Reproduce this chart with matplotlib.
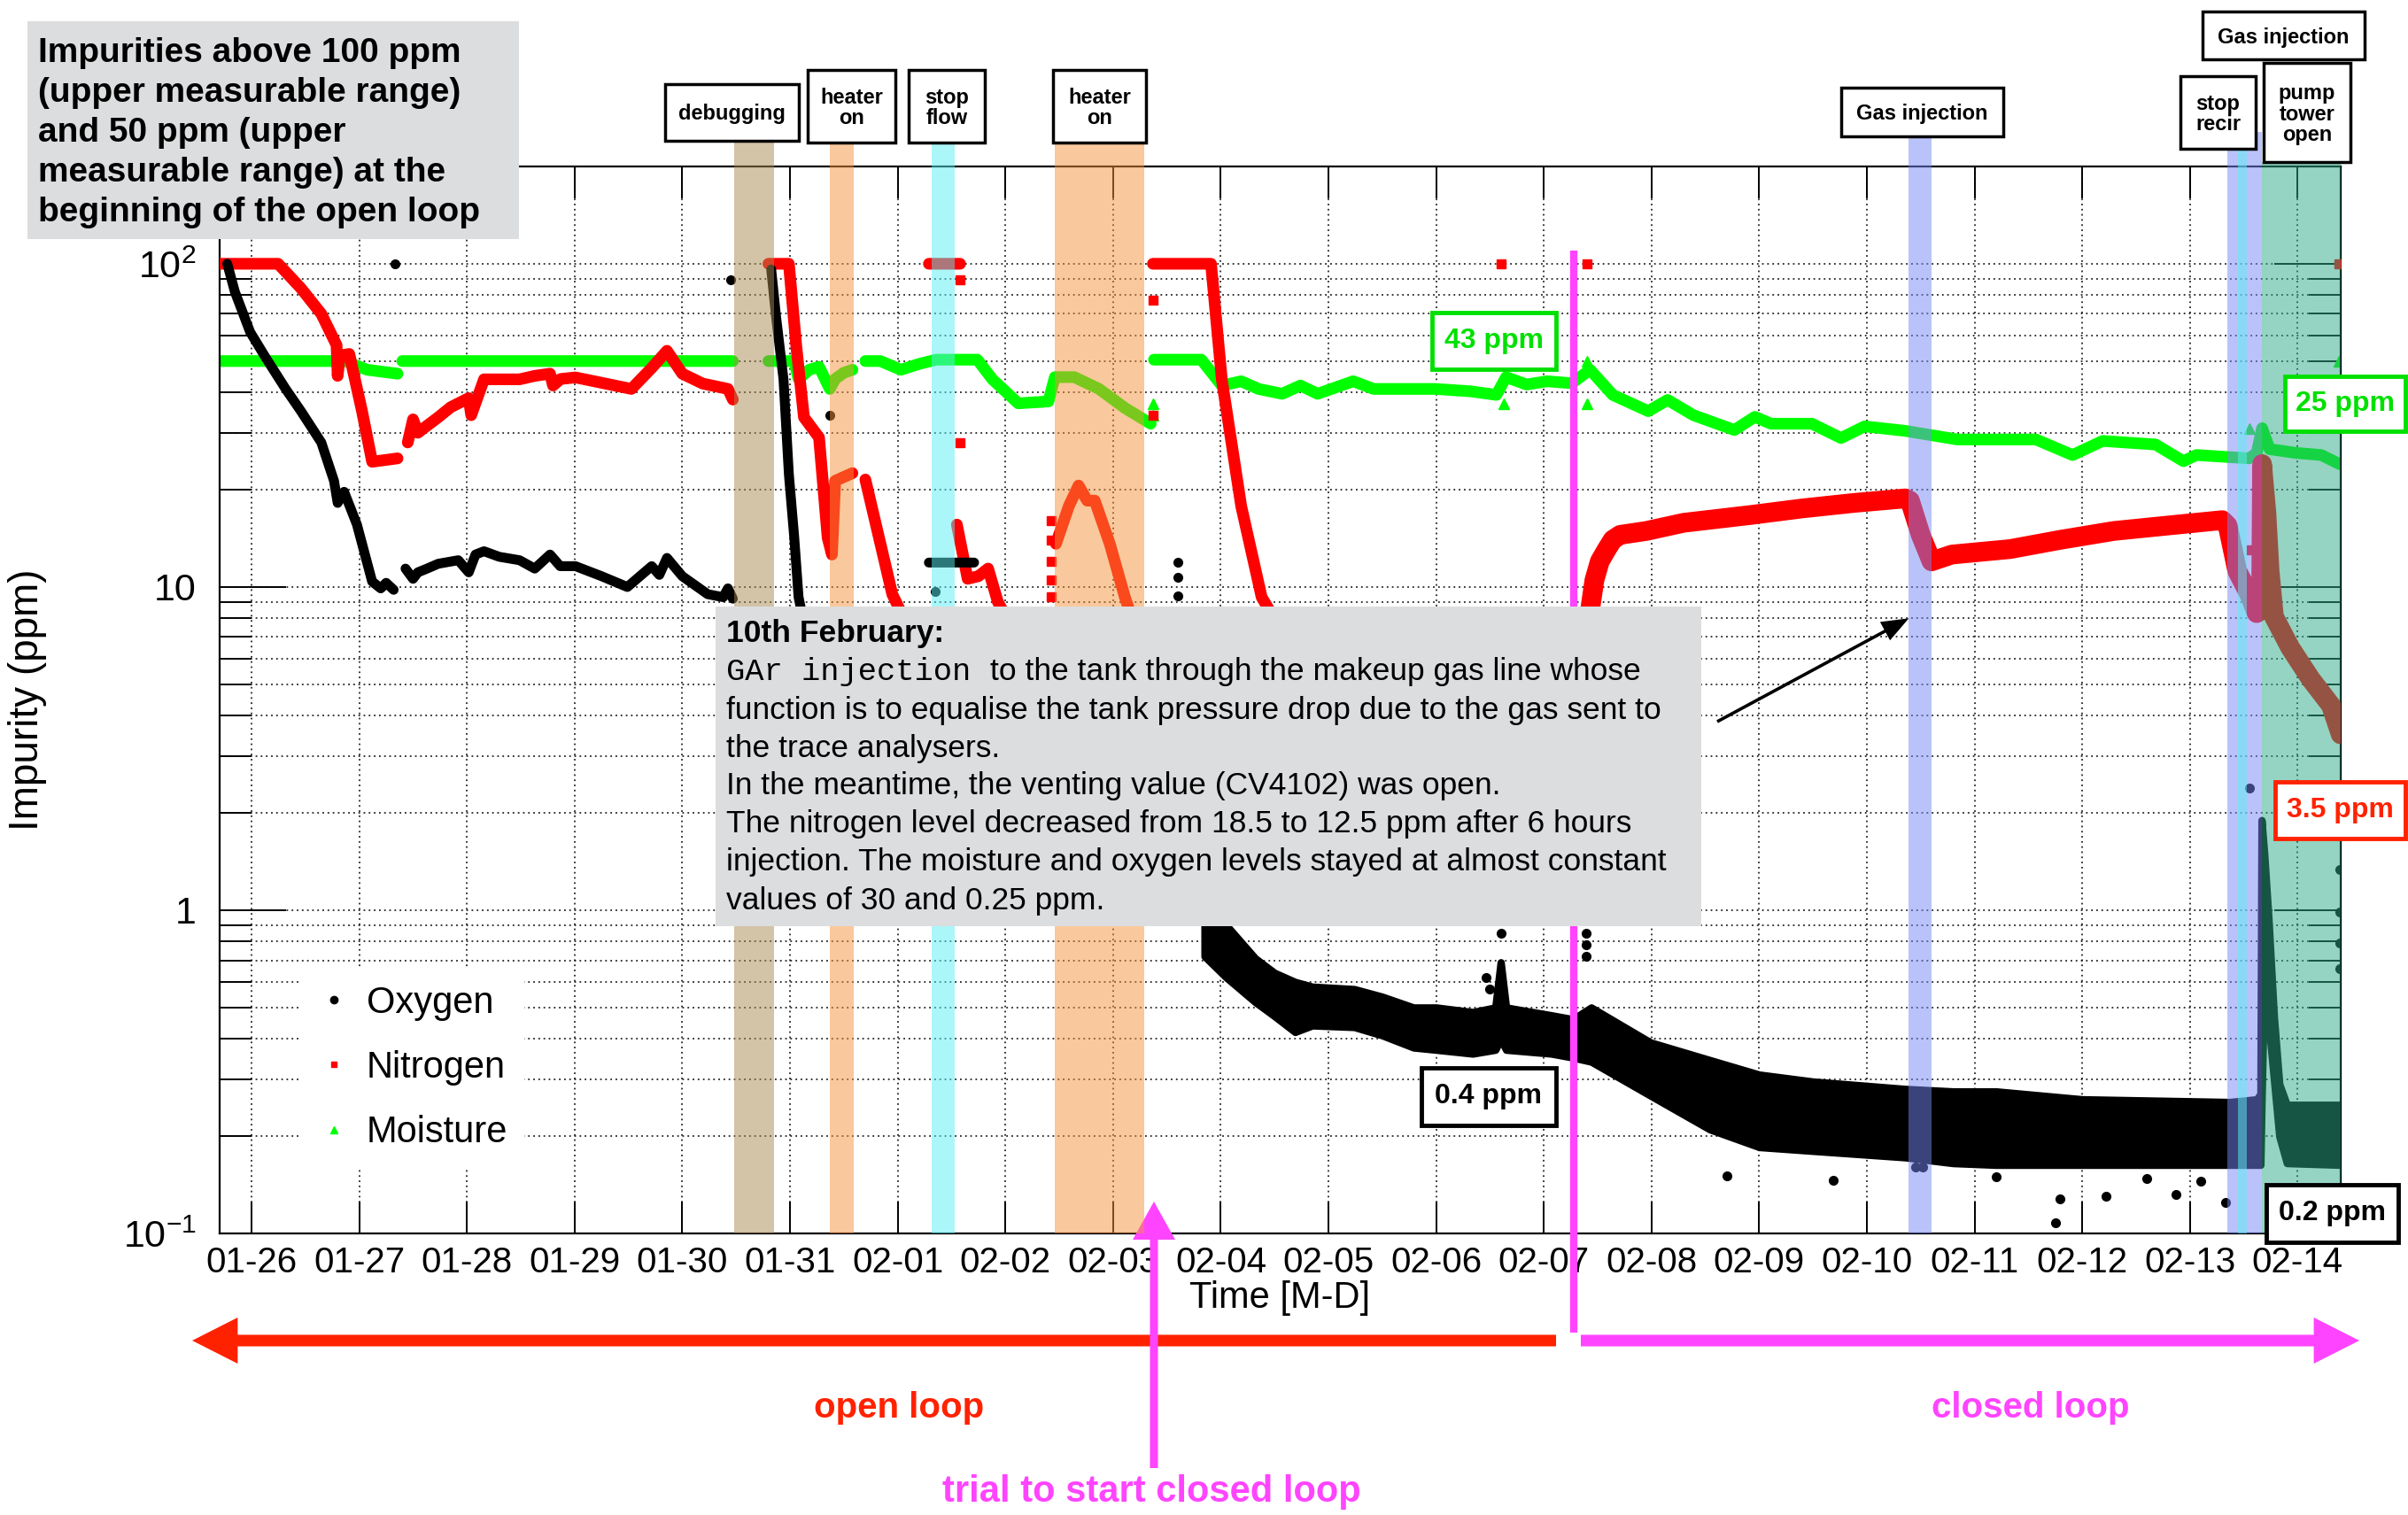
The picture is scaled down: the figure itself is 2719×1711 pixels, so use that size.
import numpy as np
import matplotlib
matplotlib.use("Agg")
import matplotlib.pyplot as plt
from matplotlib.lines import Line2D
from matplotlib.patches import Rectangle
from matplotlib.transforms import Affine2D
from matplotlib.ticker import FixedLocator, FixedFormatter, NullFormatter, NullLocator

plt.rcParams['font.family'] = ['Liberation Sans', 'DejaVu Sans']
plt.rcParams['mathtext.fontset'] = 'custom'
plt.rcParams['mathtext.rm'] = 'Liberation Sans'
plt.rcParams['mathtext.it'] = 'Liberation Sans:italic'
plt.rcParams['mathtext.bf'] = 'Liberation Sans:bold'

nan = np.nan

# ---------------- data (time in days since 01-26 00:00, values in ppm) ----------------
day_ticks = list(range(20))
day_labels = ['01-26', '01-27', '01-28', '01-29', '01-30', '01-31', '02-01', '02-02',
              '02-03', '02-04', '02-05', '02-06', '02-07', '02-08', '02-09', '02-10',
              '02-11', '02-12', '02-13', '02-14']

# Oxygen: continuous trace during the open loop
o2_day = [-0.225, -0.155, -0.013, 0.129, 0.317, 0.459, 0.648, 0.766, 0.80, 0.86, 0.979, 1.12, 1.20, 1.25, 1.32, nan,
          1.43, 1.50, 1.545, 1.63, 1.734, 1.92, 2.017, 2.08, 2.159, 2.30, 2.489, 2.63, 2.772, 2.866, 3.008,
          3.25, 3.49, 3.716, 3.787, 3.858, 4.0, 4.236, 4.38, 4.424, 4.47, nan,
          4.826, 4.87, 4.94, 4.99, 5.04, 5.08, 5.12, nan,
          6.29, 6.71]
o2_ppm = [100, 82, 61.5, 51.4, 41, 35, 28, 21.3, 18.2, 19.7, 15.6, 10.4, 9.9, 10.3, 9.8, nan,
          11.4, 10.6, 11.1, 11.4, 11.8, 12.1, 11.1, 12.6, 12.9, 12.4, 12.1, 11.4, 12.6, 11.6, 11.6,
          10.8, 10.0, 11.6, 10.9, 12.3, 10.8, 9.5, 9.3, 9.9, 9.2, nan,
          96, 69, 43.9, 22.3, 14.2, 9.3, 8.0, nan,
          11.9, 11.9]

# Oxygen: spread of the noisy readings from 02-03 onwards (lower / upper envelope)
o2_band_day = [8.85, 9.05, 9.32, 9.50, 9.69, 9.85, 10.24, 10.5, 10.79, 11.0, 11.34, 11.55, 11.60, 11.65,
               12.07, 12.27, 12.44, 12.99, 13.54, 14.0, 14.5, 15.35, 15.8, 16.2, 17.0, 18.37,
               18.62, 18.655, 18.665, 18.69, 18.73, 18.78, 18.83, 18.90, 19.40]
o2_band_lo = [0.72, 0.62, 0.52, 0.47, 0.42, 0.44, 0.435, 0.41, 0.376, 0.37, 0.36, 0.37, 0.40, 0.37,
              0.36, 0.35, 0.34, 0.267, 0.21, 0.185, 0.18, 0.172, 0.165, 0.163, 0.163, 0.163,
              0.163, 0.163, 0.25, 0.60, 0.45, 0.30, 0.20, 0.165, 0.163]
o2_band_hi = [1.0, 0.90, 0.71, 0.64, 0.60, 0.58, 0.57, 0.54, 0.50, 0.50, 0.484, 0.50, 0.69, 0.50,
              0.473, 0.46, 0.50, 0.39, 0.344, 0.31, 0.295, 0.28, 0.275, 0.275, 0.26, 0.255,
              0.26, 0.27, 1.9, 1.5, 0.94, 0.47, 0.29, 0.25, 0.25]

# Oxygen: isolated readings
o2_dot_day = [1.33, 4.45, 5.37, 6.35, 8.60, 8.60, 8.60, 11.46, 11.50, 11.60, 12.39, 12.39, 12.39,
              13.70, 14.69, 15.45, 15.52, 16.2, 16.75, 16.79, 17.22, 17.6, 17.87, 18.1, 18.33,
              18.55, 19.39, 19.39, 19.39, 19.39]
o2_dot_ppm = [100, 89, 34, 9.7, 11.9, 10.7, 9.4, 0.62, 0.57, 0.85, 0.85, 0.78, 0.72,
              0.151, 0.146, 0.16, 0.16, 0.15, 0.108, 0.128, 0.13, 0.148, 0.132, 0.145, 0.125,
              2.38, 1.34, 0.99, 0.79, 0.66]

# Nitrogen: open-loop trace
n2_day = [-0.30, 0.247, 0.459, 0.648, 0.79, 0.80, 0.82, 0.908, 1.026, 1.12, 1.356, nan,
          1.451, 1.50, 1.545, 1.60, 1.734, 1.85, 2.017, 2.04, 2.159, 2.489, 2.63, 2.772, 2.80, 2.87,
          3.008, 3.528, 3.716, 3.858, 4.0, 4.189, 4.424, 4.47, nan,
          4.80, 4.99, 5.06, 5.13, 5.27, 5.35, 5.39, 5.42, 5.58, nan,
          5.70, 5.95, 6.02, nan,
          6.29, 6.58, nan,
          6.55, 6.65, 6.75, 6.84, 6.93, 6.97, nan,
          7.47, 7.59, 7.68, 7.76, 7.83, 7.97, 8.11, 8.15, nan,
          8.37, 8.91, 9.01, 9.19, 9.38, 9.45]
n2_ppm = [100, 100, 84, 70, 56, 45, 52, 52.6, 35, 24.4, 25, nan,
          28, 33, 30, 31, 33.5, 36, 38.4, 34, 43.9, 43.9, 45, 45.7, 42, 44,
          44.5, 41, 47.6, 53.8, 45.7, 42.6, 41, 38, nan,
          100, 100, 55, 33.5, 29, 14.2, 12.6, 21.3, 22.5, nan,
          21.5, 9.5, 8.5, nan,
          100, 100, nan,
          15.6, 10.6, 10.8, 11.4, 9.0, 8.5, nan,
          13.6, 17.8, 20.6, 18.5, 18.5, 13.6, 9.3, 8.5, nan,
          100, 100, 43.9, 17.8, 9.3, 8.5]

# Nitrogen: closed-loop trace
n2_cl_day = [12.43, 12.47, 12.52, 12.58, 12.64, 12.71, 12.95, 13.3, 13.92, 14.4, 14.88, 15.36, 15.40,
             15.50, 15.60, 15.79, 16.33, 16.8, 17.29, 17.8, 18.30, 18.35, 18.44, 18.55, 18.62, 18.66,
             18.67, 18.71, 18.74, 18.78, 18.93, 19.12, 19.31, 19.40]
n2_cl_ppm = [8.5, 10.5, 12.0, 13.0, 14.0, 14.5, 14.9, 15.8, 16.7, 17.5, 18.2, 18.8, 18.5,
             14.5, 12.0, 12.6, 13.1, 14.0, 14.9, 15.5, 16.1, 15.5, 11.2, 9.5, 8.3, 8.5,
             24, 17, 11.2, 8.1, 6.5, 5.2, 4.3, 3.5]

# Nitrogen: isolated readings
n2_dot_day = [6.58, 6.58, 7.43, 7.43, 7.43, 7.43, 7.43, 8.37, 8.37, 11.6, 12.4, 19.38, 18.57]
n2_dot_ppm = [89, 28, 16, 14, 12, 10.5, 9.3, 77, 34, 100, 100, 100, 13]

# Moisture
h2o_day = [-0.30, 0.87, 1.073, 1.356, nan,
           1.40, 4.47, nan,
           4.80, 5.04, 5.08, 5.18, 5.27, 5.37, 5.42, 5.50, 5.58, nan,
           5.70, 5.84, 6.03, 6.20, 6.36, 6.74, 6.88, 7.12, 7.40, 7.46, 7.64, 7.87, 8.11, 8.35, nan,
           8.38, 8.82, 9.01, 9.19, 9.35, 9.57, 9.74, 9.90, 10.23, 10.42, 10.99, 11.32, 11.56, 11.65,
           11.84, 12.03, 12.26, 12.43, 12.64, 12.97, 13.15, 13.39, 13.77, 13.96, 14.11, 14.49, 14.76,
           14.98, 15.36, 15.84, 16.57, 16.91, 17.19, 17.68, 17.94, 18.06, 18.55, 18.62, 18.67, 18.74,
           18.98, 19.22, 19.39]
h2o_ppm = [50, 50, 47, 45.7, nan,
           50, 50, nan,
           50, 50, 44, 47, 48, 41, 44, 46, 47, nan,
           50, 50, 47, 49, 50.5, 50.5, 43.9, 37, 37.5, 44.6, 44.6, 41, 35.8, 32, nan,
           50.5, 50.5, 42, 43.3, 41, 39.6, 42, 39.6, 43.3, 41, 41, 40.3, 39.3, 44.6,
           42.3, 43.3, 42.7, 47, 39.3, 35, 37.9, 34, 30.6, 33.6, 32, 32, 28.9,
           31.4, 30.4, 28.6, 28.6, 25.6, 28.3, 27.6, 24.5, 25.6, 25, 26, 31, 26.7,
           26, 25.6, 24]

h2o_dot_day = [8.37, 8.37, 11.63, 12.40, 12.40, 18.55, 19.38]
h2o_dot_ppm = [37, 34, 37, 50, 37, 31, 50]

# Operation periods (shaded) and the start of the closed loop
band_start = [4.48, 5.37, 6.32, 7.46, 15.39, 18.35, 18.45, 18.67]
band_end = [4.85, 5.59, 6.53, 8.29, 15.60, 18.67, 18.53, 19.40]
closed_loop_start = 12.28
trial_closed_loop = 8.38
gas_injection_day, gas_injection_ppm = 15.39, 8.0

# ---------------- figure ----------------
W, H, DPI = 2719, 1711, 100
fig = plt.figure(figsize=(W / DPI, H / DPI), dpi=DPI)
fig.patch.set_facecolor('white')

# pixel frame with the origin at the top-left corner
PX = Affine2D().scale(1.0 / W, -1.0 / H).translate(0, 1) + fig.transFigure

ax_l, ax_r, ax_t, ax_b = 248, 2643, 188, 1393
ax = fig.add_axes([ax_l / W, 1 - ax_b / H, (ax_r - ax_l) / W, (ax_b - ax_t) / H])
ax.set_yscale('log')
ax.set_ylim(0.1, 200)
ax.set_xlim(-0.296, 19.40)

ax.xaxis.set_major_locator(FixedLocator(day_ticks))
ax.xaxis.set_major_formatter(FixedFormatter(day_labels))
ax.xaxis.set_minor_locator(NullLocator())
ax.yaxis.set_major_locator(FixedLocator([0.1, 1, 10, 100]))
ax.yaxis.set_major_formatter(FixedFormatter([r'$10^{-1}$', '1', '10', r'$10^{2}$']))
ax.yaxis.set_minor_locator(FixedLocator([m * 10.0 ** e for e in (-1, 0, 1) for m in range(2, 10)]))
ax.yaxis.set_minor_formatter(NullFormatter())

for s in ax.spines.values():
    s.set_linewidth(1.6)
ax.tick_params(which='both', direction='in', top=True, right=True, width=1.4, color='black')
ax.tick_params(axis='x', which='major', length=26, labelsize=29, pad=10)
ax.tick_params(axis='y', which='major', length=54, labelsize=31, pad=19)
ax.tick_params(axis='y', which='minor', length=26)

grid_kw = dict(color='black', linewidth=1.1, linestyle=(0, (1.2, 2.6)))
ax.grid(True, axis='x', which='major', **grid_kw)
ax.grid(True, axis='y', which='both', **grid_kw)
ax.set_axisbelow(True)

ax.set_xlabel('Time [M-D]', fontsize=30)
ax.xaxis.set_label_coords(0.5, (ax_b - 1466) / (ax_b - ax_t))
ax.xaxis.label.set_verticalalignment('center')
ax.set_ylabel('Impurity (ppm)', fontsize=33)
ax.yaxis.set_label_coords((31 - ax_l) / (ax_r - ax_l), 0.5)
ax.yaxis.label.set_verticalalignment('center')

# ---------------- series ----------------
GREEN = '#00ff00'
RED = '#ff0000'
line_kw = dict(solid_joinstyle='round', solid_capstyle='round')
ax.plot(h2o_day, h2o_ppm, color=GREEN, lw=9.5, zorder=2, **line_kw)
ax.plot(h2o_dot_day, h2o_dot_ppm, ls='none', marker='^', ms=8, color=GREEN, zorder=2)
ax.plot(n2_day, n2_ppm, color=RED, lw=9.5, zorder=3, **line_kw)
ax.plot(n2_cl_day, n2_cl_ppm, color=RED, lw=16, zorder=3, **line_kw)
ax.plot(n2_dot_day, n2_dot_ppm, ls='none', marker='s', ms=7, color=RED, zorder=3)
ax.fill_between(o2_band_day, o2_band_lo, o2_band_hi, facecolor='black', edgecolor='black',
                linewidth=6, zorder=4)
ax.plot(o2_day, o2_ppm, color='black', lw=8, zorder=4, **line_kw)
ax.plot(o2_dot_day, o2_dot_ppm, ls='none', marker='o', ms=7, color='black', zorder=4)

# shaded operation periods, drawn translucently over the traces
band_colors = ['#a98951', '#f5933a', '#59eff5', '#f5933a', '#7789f5', '#7789f5', '#59eff5', '#2da987']
band_tops = [1.024, 1.022, 1.022, 1.022, 1.028, 1.032, 1.032, 1.004]
for x0, x1, c, top in zip(band_start, band_end, band_colors, band_tops):
    ax.axvspan(x0, x1, ymin=0, ymax=top, facecolor=c, alpha=0.5, lw=0, zorder=5, clip_on=False)

ax.plot([closed_loop_start, closed_loop_start], [-0.093, (ax_b - 283) / (ax_b - ax_t)],
        transform=ax.get_xaxis_transform(), color='#ff44ff', lw=6, zorder=6, clip_on=False,
        solid_capstyle='butt')

# legend
handles = [Line2D([], [], ls='none', marker='o', ms=6, color='black'),
           Line2D([], [], ls='none', marker='s', ms=5, color=RED),
           Line2D([], [], ls='none', marker='^', ms=6, color=GREEN)]
leg = ax.legend(handles, ['Oxygen', 'Nitrogen', 'Moisture'], loc='upper left',
                bbox_to_anchor=(337, 1094), bbox_transform=PX, borderaxespad=0,
                fontsize=30, labelspacing=0.8, handlelength=1.0, handletextpad=0.4,
                borderpad=0.45, fancybox=False, framealpha=1)
leg.get_frame().set_edgecolor('none')
leg.get_frame().set_facecolor('white')
leg.set_zorder(7)


# ---------------- annotations ----------------
def box(x0, y0, x1, y1, ec='black', lw=2.5, fc='white', z=20):
    fig.add_artist(Rectangle((x0, y0), x1 - x0, y1 - y0, transform=PX, facecolor=fc,
                             edgecolor=ec, linewidth=lw, zorder=z))


def label(x, y, s, z=21, **kw):
    fig.text(x, y, s, transform=PX, zorder=z, **kw)


# event labels above the frame
events = [
    ('debugging', (751, 95, 902, 159)),
    ('heater\non', (912, 79, 1011, 161)),
    ('stop\nflow', (1026, 79, 1112, 161)),
    ('heater\non', (1189, 79, 1294, 161)),
    ('Gas injection', (2079, 99, 2262, 154)),
    ('stop\nrecir', (2462, 86, 2547, 168)),
    ('pump\ntower\nopen', (2556, 71, 2654, 183)),
    ('Gas injection', (2487, 13, 2670, 67)),
]
for text, (x0, y0, x1, y1) in events:
    box(x0, y0, x1, y1, lw=2.5)
    label((x0 + x1) / 2, (y0 + y1) / 2 + 2, text, ha='center', va='center', fontsize=17,
          fontweight='bold', linespacing=1.05)

# value call-outs
callouts = [
    ('43 ppm', (1617, 353, 1757, 417), '#00e000'),
    ('25 ppm', (2580, 425, 2716, 487), '#00e000'),
    ('3.5 ppm', (2569, 883, 2716, 947), '#ff2200'),
    ('0.4 ppm', (1605, 1206, 1757, 1271), 'black'),
    ('0.2 ppm', (2559, 1338, 2708, 1403), 'black'),
]
for text, (x0, y0, x1, y1), c in callouts:
    box(x0, y0, x1, y1, ec=c, lw=3.5)
    label((x0 + x1) / 2, (y0 + y1) / 2, text, ha='center', va='center', fontsize=23,
          fontweight='bold', color=c)

# note on the measurable range
box(31, 24, 586, 270, ec='none', fc='#dcdddf', lw=0)
range_note = ['Impurities above 100 ppm', '(upper measurable range)', 'and 50 ppm (upper',
              'measurable range) at the', 'beginning of the open loop']
for i, s in enumerate(range_note):
    label(43, 60 + 45 * i, s, ha='left', va='center', fontsize=28, fontweight='bold')

# note on the 10th February gas injection
box(808, 685, 1921, 1046, ec='none', fc='#dcdddf', lw=0)
note_y = [716, 759, 803, 846, 888, 931, 974, 1018]
label(820, note_y[0], '10th February:', ha='left', va='center', fontsize=25.5, fontweight='bold')
mono = fig.text(820, note_y[1], 'GAr injection', transform=PX, zorder=21, ha='left', va='center',
                fontsize=25.5, family=['Liberation Mono', 'DejaVu Sans Mono'])
fig.canvas.draw()
mono_end = mono.get_window_extent().x1
label(mono_end + 22, note_y[1], 'to the tank through the makeup gas line whose',
      ha='left', va='center', fontsize=25.5)
note_lines = ['function is to equalise the tank pressure drop due to the gas sent to',
              'the trace analysers.',
              'In the meantime, the venting value (CV4102) was open.',
              'The nitrogen level decreased from 18.5 to 12.5 ppm after 6 hours',
              'injection. The moisture and oxygen levels stayed at almost constant',
              'values of 30 and 0.25 ppm.']
for y, s in zip(note_y[2:], note_lines):
    label(820, y, s, ha='left', va='center', fontsize=25.5)

ax.annotate('', xy=(gas_injection_day, gas_injection_ppm), xycoords='data',
            xytext=(1939, 815), textcoords=PX, zorder=22,
            arrowprops=dict(arrowstyle='simple,head_length=22,head_width=17,tail_width=2.6',
                            mutation_scale=1, color='black', lw=0, shrinkA=0, shrinkB=0))

# open / closed loop arrows below the time axis
ax.annotate('', xy=(217, 1514), xycoords=PX, xytext=(1757, 1514), textcoords=PX,
            arrowprops=dict(arrowstyle='simple,head_length=37,head_width=37.5,tail_width=9.4',
                            mutation_scale=1, color='#ff2200', lw=0, shrinkA=0, shrinkB=0))
ax.annotate('', xy=(2664, 1514), xycoords=PX, xytext=(1785, 1514), textcoords=PX,
            arrowprops=dict(arrowstyle='simple,head_length=37,head_width=37.5,tail_width=9.4',
                            mutation_scale=1, color='#ff44ff', lw=0, shrinkA=0, shrinkB=0))
ax.annotate('', xy=(trial_closed_loop, (ax_b - 1357) / (ax_b - ax_t)),
            xycoords=('data', 'axes fraction'),
            xytext=(trial_closed_loop, (ax_b - 1658) / (ax_b - ax_t)),
            textcoords=('data', 'axes fraction'), annotation_clip=False,
            arrowprops=dict(arrowstyle='simple,head_length=31,head_width=34.5,tail_width=6.5',
                            mutation_scale=1, color='#ff44ff', lw=0, shrinkA=0, shrinkB=0))

label(1015, 1590, 'open loop', ha='center', va='center', fontsize=29, fontweight='bold',
      color='#ff2200')
label(2293, 1590, 'closed loop', ha='center', va='center', fontsize=29, fontweight='bold',
      color='#ff44ff')
label(1300, 1685, 'trial to start closed loop', ha='center', va='center', fontsize=30,
      fontweight='bold', color='#ff44ff')

fig.savefig('out.png', dpi=DPI, facecolor='white')
